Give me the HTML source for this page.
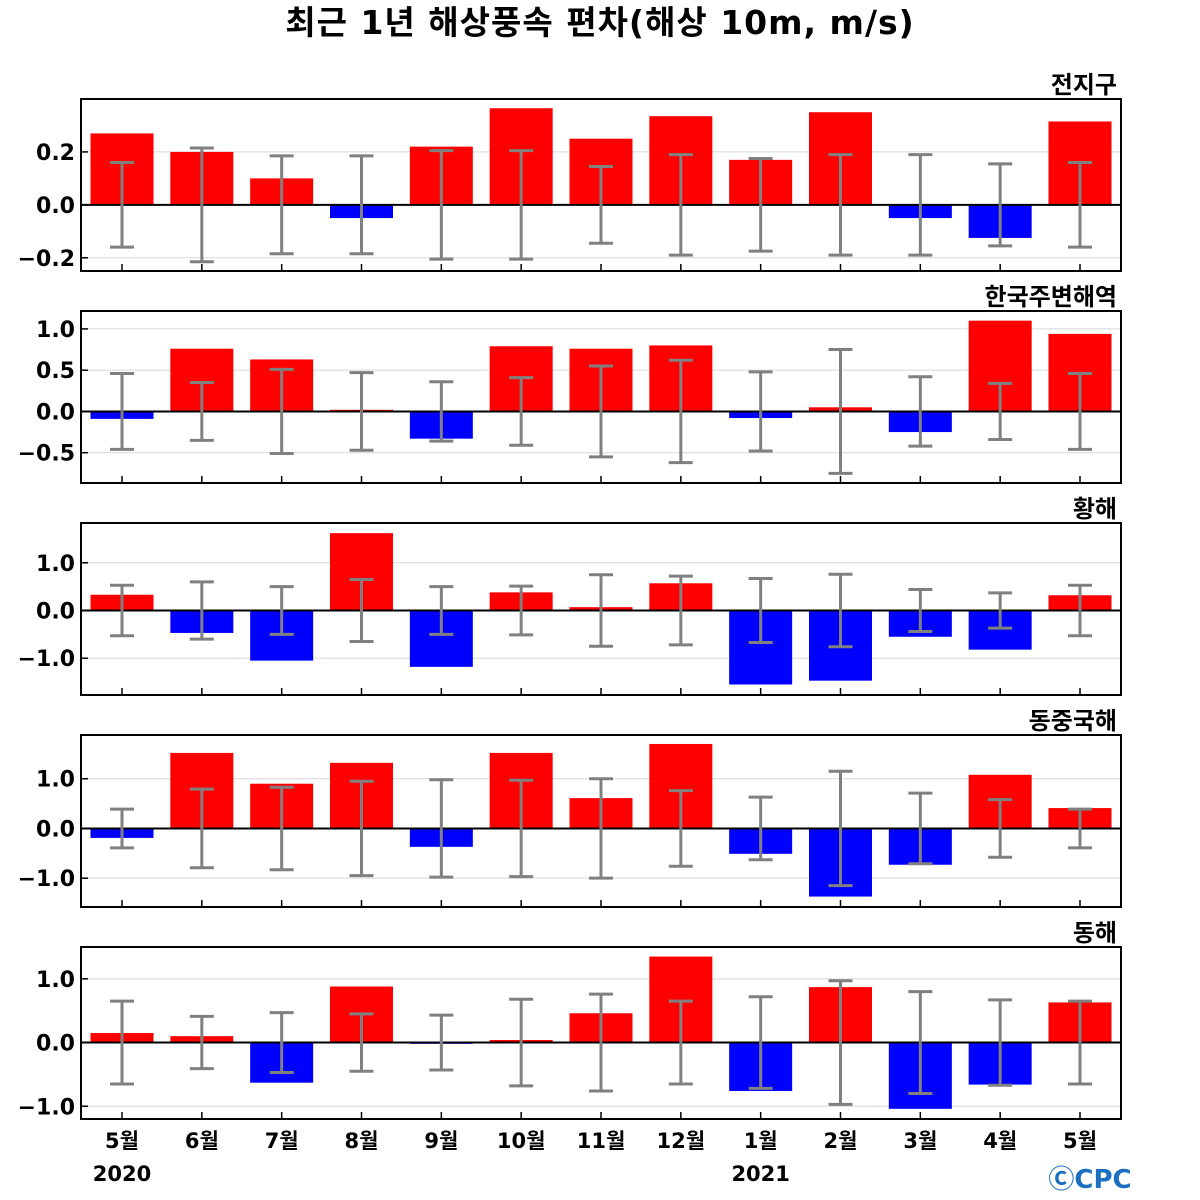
<!DOCTYPE html>
<html><head><meta charset="utf-8"><style>
body{margin:0;background:#fff}
svg{display:block;font-family:"DejaVu Sans","Liberation Sans","Noto Sans CJK KR",sans-serif}
</style></head><body>
<svg id="c" width="1200" height="1200"></svg>
<script>
const months=["5월","6월","7월","8월","9월","10월","11월","12월","1월","2월","3월","4월","5월"];
const regions=["전지구","한국주변해역","황해","동중국해","동해"];
const vals0=[0.27,0.2,0.1,-0.05,0.22,0.365,0.25,0.335,0.17,0.35,-0.05,-0.125,0.315];
const errs0=[0.16,0.215,0.185,0.185,0.205,0.205,0.145,0.19,0.175,0.19,0.19,0.155,0.16];
const vals1=[-0.09,0.76,0.63,0.02,-0.33,0.79,0.76,0.8,-0.08,0.05,-0.25,1.1,0.94];
const errs1=[0.46,0.35,0.51,0.47,0.36,0.41,0.55,0.62,0.48,0.75,0.42,0.34,0.46];
const vals2=[0.33,-0.47,-1.05,1.62,-1.18,0.38,0.07,0.57,-1.55,-1.47,-0.55,-0.82,0.32];
const errs2=[0.53,0.6,0.5,0.65,0.5,0.51,0.75,0.72,0.67,0.76,0.44,0.37,0.53];
const vals3=[-0.19,1.52,0.9,1.32,-0.37,1.52,0.61,1.7,-0.51,-1.37,-0.73,1.08,0.41];
const errs3=[0.39,0.79,0.83,0.95,0.98,0.97,1.0,0.76,0.63,1.15,0.71,0.58,0.39];
const vals4=[0.15,0.1,-0.63,0.88,-0.02,0.04,0.46,1.35,-0.76,0.87,-1.04,-0.66,0.63];
const errs4=[0.65,0.41,0.47,0.45,0.43,0.68,0.76,0.65,0.72,0.97,0.8,0.67,0.65];
const yRanges=[[-0.25,0.4],[-0.867,1.217],[-1.77,1.833],[-1.58,1.88],[-1.2,1.5]];
const yTicks=[[-0.2,0,0.2],[-0.5,0,0.5,1.0],[-1,0,1],[-1,0,1],[-1,0,1]];
const tickLabels=[["−0.2","0.0","0.2"],["−0.5","0.0","0.5","1.0"],["−1.0","0.0","1.0"],["−1.0","0.0","1.0"],["−1.0","0.0","1.0"]];
const allVals=[vals0,vals1,vals2,vals3,vals4],allErrs=[errs0,errs1,errs2,errs3,errs4];
const NS="http://www.w3.org/2000/svg",svg=document.getElementById('c');
function mk(t,a,txt){const e=document.createElementNS(NS,t);for(const k in a)e.setAttribute(k,a[k]);if(txt!==undefined)e.textContent=txt;svg.appendChild(e);return e;}
const L=81,R=1121,panelTops=[99,311,523,735,947],H=172;
const xc=i=>L+41+i*(R-L-82)/(months.length-1);
let t=mk('text',{x:600,y:34,'text-anchor':'middle','font-size':33,'font-weight':'bold','letter-spacing':1},'최근 1년 해상풍속 편차(해상 10m, m/s)');


for(let p=0;p<5;p++){
 const top=panelTops[p],bot=top+H,[y0,y1]=yRanges[p];
 const y=v=>bot-(v-y0)/(y1-y0)*H;
 yTicks[p].forEach((v,k)=>{
  let g=mk('line',{x1:L,x2:R,y1:y(v),y2:y(v),stroke:'#d8d8d8','stroke-width':1});
  
  
  mk('line',{x1:L,x2:L+7,y1:y(v),y2:y(v),stroke:'#000','stroke-width':1.5});
  let tl=mk('text',{x:75,y:y(v)+8,'text-anchor':'end','font-size':22,'font-weight':'bold'},tickLabels[p][k]);
  
  
 });
 allVals[p].forEach((v,i)=>{
  const b=mk('rect',{x:xc(i)-31.5,width:63,y:Math.min(y(v),y(0)),height:Math.abs(y(v)-y(0)),fill:v>=0?'#ff0000':'#0000ff'});
  
  
 });
 mk('line',{x1:L,x2:R,y1:y(0),y2:y(0),stroke:'#000','stroke-width':2});
 allErrs[p].forEach((e,i)=>{
  const x=xc(i);
  const eb=mk('path',{d:`M${x},${y(e)}V${y(-e)}M${x-12},${y(e)}H${x+12}M${x-12},${y(-e)}H${x+12}`,stroke:'#808080','stroke-width':3,fill:'none'});
  
  
  mk('line',{x1:x,x2:x,y1:bot,y2:bot-7,stroke:'#000','stroke-width':1.5});
 });
 const fr=mk('rect',{x:L,y:top,width:R-L,height:H,fill:'none',stroke:'#000','stroke-width':2});
 
 
 const rl=mk('text',{x:1117,y:top-6,'text-anchor':'end','font-size':24,'font-weight':'bold'},regions[p]);
 
 
}
months.forEach((m,i)=>{
 const ml=mk('text',{x:xc(i),y:1148,'text-anchor':'middle','font-size':21,'font-weight':'bold'},m);
 
 
});
[["2020",0],["2021",8]].forEach(([yr,i])=>{
 const yl=mk('text',{x:xc(i),y:1181,'text-anchor':'middle','font-size':21,'font-weight':'bold'},yr);
 
 
});
const lg=mk('text',{x:1090,y:1188,'text-anchor':'middle','font-size':26,'font-weight':'bold',fill:'#1a6fc0'},'ⒸCPC');


</script>
</body></html>
